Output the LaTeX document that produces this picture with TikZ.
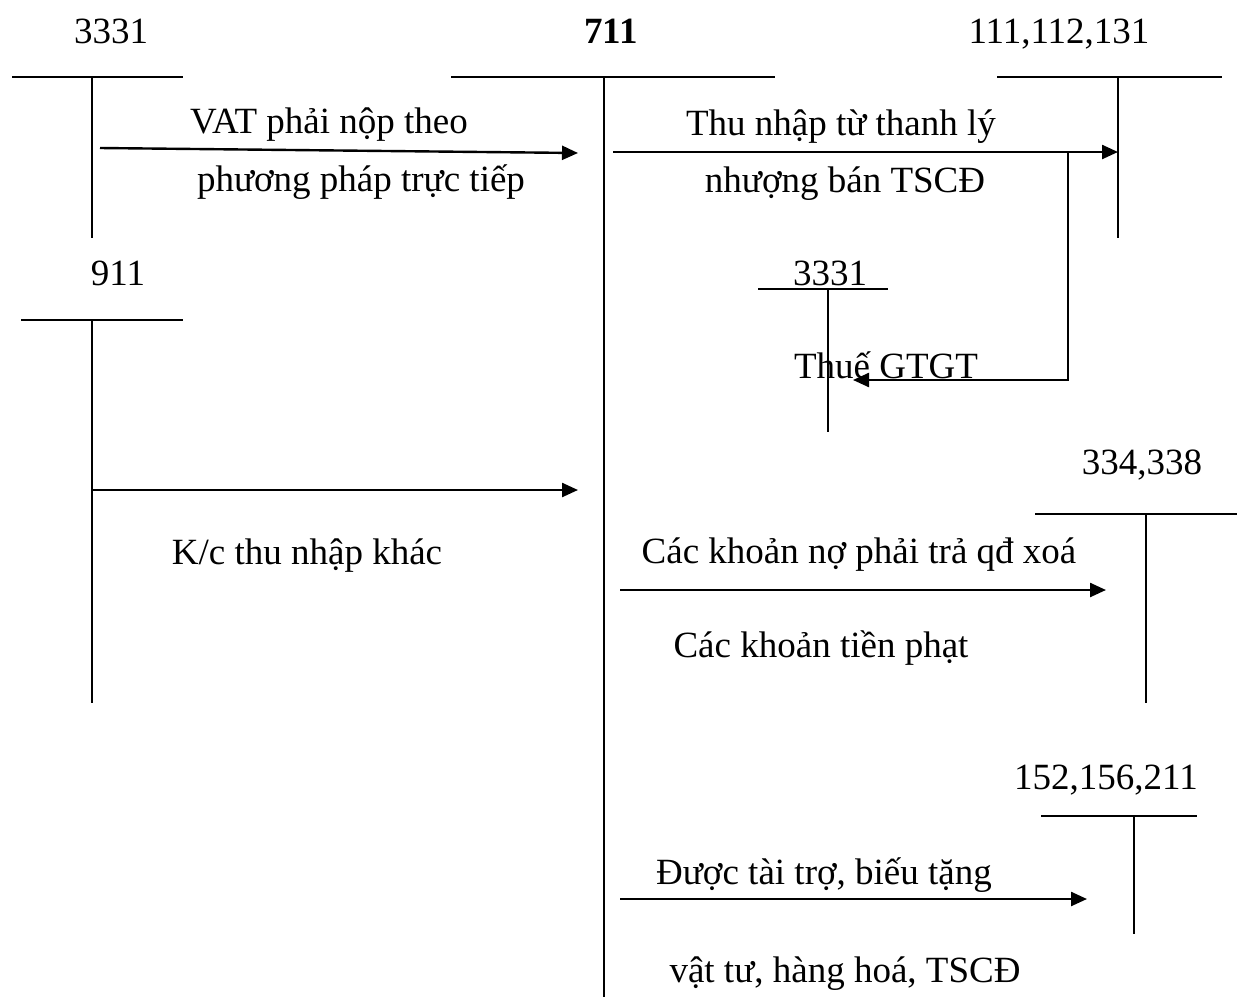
\documentclass[tikz,border=0pt]{standalone}
\usepackage{fontspec}
\setmainfont{Liberation Serif}
\usetikzlibrary{arrows.meta}
\begin{document}
\begin{tikzpicture}[x=1pt,y=-1pt,
  tline/.style={line width=2pt},
  flow/.style={line width=2.4pt,-{Triangle[length=16pt,width=14pt]}},
  lbl/.style={anchor=base,inner sep=0pt,font=\fontsize{37}{44}\selectfont}]
\useasboundingbox (0,0) rectangle (1243,997);

% ---- T accounts ----
% 3331 (top left)
\node[lbl] (n3331a) at (111,43) {3331};
\coordinate (a1l) at (12,77); \coordinate (a1r) at (183,77);
\coordinate (a1t) at (92,77); \coordinate (a1b) at (92,238);
\draw[tline] (a1l) -- (a1r); \draw[tline] (a1t) -- (a1b);
% 711
\node[lbl] (n711) at (611,43) {\bfseries 711};
\coordinate (b1l) at (451,77); \coordinate (b1r) at (775,77);
\coordinate (b1t) at (604,77); \coordinate (b1b) at (604,997);
\draw[tline] (b1l) -- (b1r); \draw[tline] (b1t) -- (b1b);
% 111,112,131
\node[lbl] (n111) at (1059,43) {111,112,131};
\coordinate (c1l) at (997,77); \coordinate (c1r) at (1222,77);
\coordinate (c1t) at (1118,77); \coordinate (c1b) at (1118,238);
\draw[tline] (c1l) -- (c1r); \draw[tline] (c1t) -- (c1b);
% 911
\node[lbl] (n911) at (118,285) {911};
\coordinate (d1l) at (21,320); \coordinate (d1r) at (183,320);
\coordinate (d1t) at (92,320); \coordinate (d1b) at (92,703);
\draw[tline] (d1l) -- (d1r); \draw[tline] (d1t) -- (d1b);
% 3331 (middle)
\node[lbl] (n3331b) at (830,285) {3331};
\coordinate (e1l) at (758,289); \coordinate (e1r) at (888,289);
\coordinate (e1t) at (828,289); \coordinate (e1b) at (828,432);
\draw[tline] (e1l) -- (e1r); \draw[tline] (e1t) -- (e1b);
% 334,338
\node[lbl] (n334) at (1142,474) {334,338};
\coordinate (f1l) at (1035,514); \coordinate (f1r) at (1237,514);
\coordinate (f1t) at (1146,514); \coordinate (f1b) at (1146,703);
\draw[tline] (f1l) -- (f1r); \draw[tline] (f1t) -- (f1b);
% 152,156,211
\node[lbl] (n152) at (1106,789) {152,156,211};
\coordinate (g1l) at (1041,816); \coordinate (g1r) at (1197,816);
\coordinate (g1t) at (1134,816); \coordinate (g1b) at (1134,934);
\draw[tline] (g1l) -- (g1r); \draw[tline] (g1t) -- (g1b);

% ---- flows ----
\coordinate (v1s) at (100,148); \coordinate (v1e) at (578,153);
\draw[flow] (v1s) -- (v1e);
\node[lbl] (t1a) at (329,133) {VAT phải nộp theo};
\node[lbl] (t1b) at (361,191) {phương pháp trực tiếp};

\coordinate (v2s) at (613,152); \coordinate (v2e) at (1118,152);
\draw[flow] (v2s) -- (v2e);
\node[lbl] (t2a) at (841,135) {Thu nhập từ thanh lý};
\node[lbl] (t2b) at (845,192) {nhượng bán TSCĐ};

\node[lbl] (t3) at (886,378) {Thuế GTGT};
\coordinate (v3s) at (1068,152); \coordinate (v3c) at (1068,380); \coordinate (v3e) at (853,380);
\draw[flow] (v3s) -- (v3c) -- (v3e);

\coordinate (v4s) at (92,490); \coordinate (v4e) at (578,490);
\draw[flow] (v4s) -- (v4e);
\node[lbl] (t4) at (307,564) {K/c thu nhập khác};

\coordinate (v5s) at (620,590); \coordinate (v5e) at (1106,590);
\draw[flow] (v5s) -- (v5e);
\node[lbl] (t5a) at (859,563) {Các khoản nợ phải trả qđ xoá};
\node[lbl] (t5b) at (821,657) {Các khoản tiền phạt};

\coordinate (v6s) at (620,899); \coordinate (v6e) at (1087,899);
\draw[flow] (v6s) -- (v6e);
\node[lbl] (t6a) at (824,884) {Được tài trợ, biếu tặng};
\node[lbl] (t6b) at (845,982) {vật tư, hàng hoá, TSCĐ};
\end{tikzpicture}
\end{document}
